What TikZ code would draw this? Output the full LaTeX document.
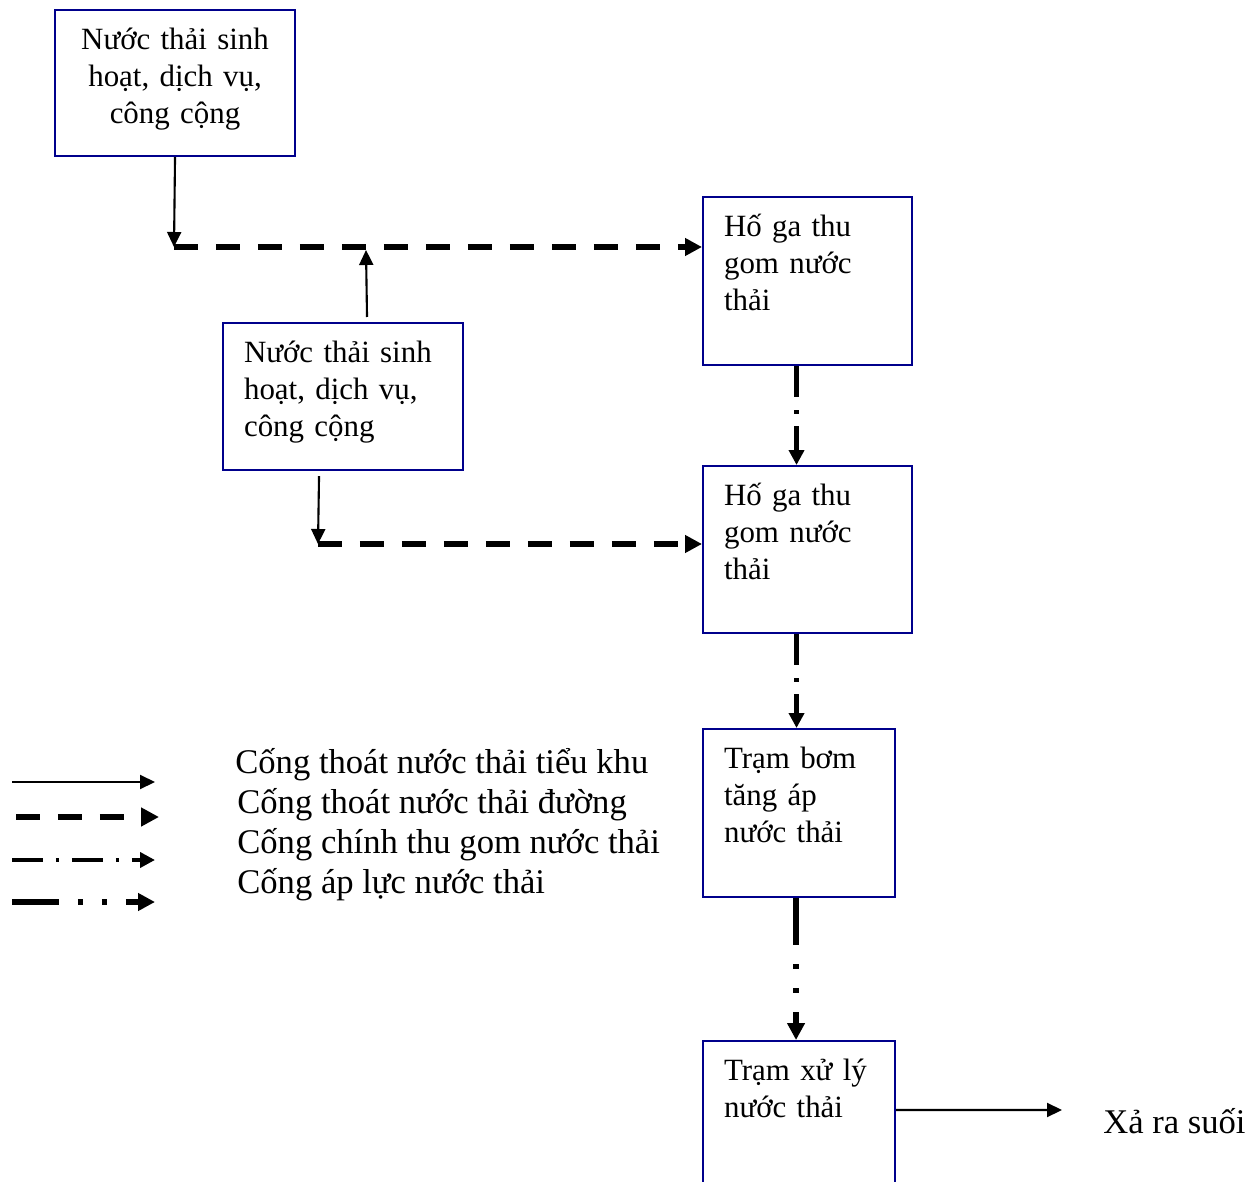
\documentclass[tikz,border=0pt]{standalone}
\usepackage{fontspec}
\setmainfont{Liberation Serif}
\usetikzlibrary{arrows.meta}
\definecolor{boxblue}{RGB}{0,0,140}

\begin{document}
\begin{tikzpicture}[x=0.02cm,y=-0.02cm,
	box/.style={draw=boxblue,line width=1.2pt,anchor=north west,align=left,inner xsep=0.42cm,inner ysep=0pt,text height=0.79cm,font=\fontsize{17.6pt}{21pt}\selectfont},
	pipe/.style={line width=1.2pt,-{Triangle[length=0.3cm,width=0.28cm]}},
	road/.style={line width=3.4pt,dash pattern=on 0.48cm off 0.36cm,-{Triangle[length=0.34cm,width=0.34cm]}},
	main/.style={line width=2.6pt,dash pattern=on 0.62cm off 0.26cm on 0.07cm off 0.25cm,-{Triangle[length=0.3cm,width=0.3cm]}},
	press/.style={line width=3.8pt,dash pattern=on 0.94cm off 0.38cm on 0.1cm off 0.38cm on 0.1cm off 0.38cm,-{Triangle[length=0.34cm,width=0.34cm]}},
	legend/.style={anchor=base west,inner sep=0pt,font=\fontsize{19.7pt}{22.8pt}\selectfont}]
		\useasboundingbox (0,0) rectangle (1251,1182);
		\node (a)[box,align=center,text width=4.4cm,inner xsep=0.2cm,text depth=2.13cm] at (54,9) {Nước thải sinh\\hoạt, dịch vụ,\\công cộng};
		\node (b)[box,text width=3.96cm,text depth=2.15cm] at (222,322) {Nước thải sinh\\hoạt, dịch vụ,\\công cộng};
		\node (c)[box,text width=3.34cm,text depth=2.57cm] at (702,196) {Hố ga thu\\gom nước\\thải};
		\node (d)[box,text width=3.34cm,text depth=2.55cm] at (702,465) {Hố ga thu\\gom nước\\thải};
		\node (e)[box,text width=3.0cm,text depth=2.57cm] at (702,728) {Trạm bơm\\tăng áp\\nước thải};
		\node (f)[box,text width=3.0cm,text depth=2.57cm] at (702,1040) {Trạm xử lý\\nước thải};
		\node (xa)[legend] at (1103,1133) {Xả ra suối};
		\coordinate (j1) at (174,247);
		\coordinate (j2) at (366,250);
		\coordinate (j3) at (318,544);
		\coordinate (outlet) at (1062,1110);
		\draw[pipe] (a.south) -- (j1);
		\draw[road] (j1) -- (j1 -| c.west);
		\draw[pipe] ([xshift=0.48cm,yshift=0.1cm]b.north) -- (j2);
		\draw[pipe] ([xshift=-0.48cm,yshift=-0.1cm]b.south) -- (j3);
		\draw[road] (j3) -- (j3 -| d.west);
		\draw[main] ([xshift=-0.22cm]c.south) -- ([xshift=-0.22cm]d.north);
		\draw[main] ([xshift=-0.22cm]d.south) -- ([xshift=-0.22cm]d.south |- e.north);
		\draw[press] ([xshift=-0.06cm]e.south) -- ([xshift=-0.06cm]f.north);
		\draw[pipe] ([yshift=-1.4cm]f.north east) -- (outlet);
		\coordinate (s1) at (12,782);
		\coordinate (t1) at (155,782);
		\coordinate (s2) at (16,817);
		\coordinate (t2) at (159,817);
		\coordinate (s3) at (12,860);
		\coordinate (t3) at (155,860);
		\coordinate (s4) at (12,902);
		\coordinate (t4) at (155,902);
		\draw[pipe] (s1) -- (t1);
		\draw[road,-{Triangle[length=0.36cm,width=0.36cm]}] (s2) -- (t2);
		\draw[main] (s3) -- (t3);
		\draw[press] (s4) -- (t4);
		\node (l1)[legend] at (235,773) {Cống thoát nước thải tiểu khu};
		\node (l2)[legend] at (237,813) {Cống thoát nước thải đường};
		\node (l3)[legend] at (237,853) {Cống chính thu gom nước thải};
		\node (l4)[legend] at (237,893) {Cống áp lực nước thải};
		\end{tikzpicture}
\end{document}
